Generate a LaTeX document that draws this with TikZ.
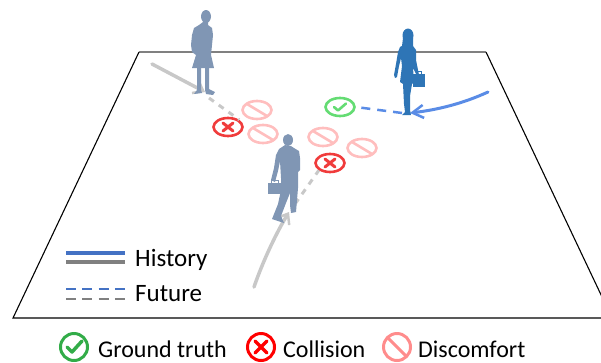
\documentclass[tikz,border=0pt]{standalone}
\usepackage{fontspec}
\setmainfont{Carlito}
\usetikzlibrary{arrows.meta,shapes.geometric}

\definecolor{walker}{RGB}{128,150,180}
\definecolor{lady}{RGB}{46,117,182}
\definecolor{trailgray}{RGB}{200,200,200}
\definecolor{trailblue}{RGB}{90,140,230}
\definecolor{keyblue}{RGB}{68,114,196}
\definecolor{keygray}{RGB}{128,128,128}
\definecolor{okgreen}{RGB}{100,220,115}
\definecolor{hitred}{RGB}{240,60,60}
\definecolor{nearpink}{RGB}{255,190,190}
\definecolor{kgreen}{RGB}{50,172,72}
\definecolor{kred}{RGB}{255,0,0}
\definecolor{kpink}{RGB}{255,140,140}

\tikzset{
  floor/.style={line width=1.1pt, line join=miter},
  trail/.style={line width=3.5pt, trailgray, line cap=round},
  trailtip/.style={-{Straight Barb[length=9pt,width=14pt,line width=2.5pt]}},
  bluetrail/.style={line width=3pt, trailblue, line cap=round},
  grayfut/.style={line width=3pt, trailgray, dash pattern=on 6pt off 6pt},
  bluefut/.style={line width=2.5pt, trailblue, dash pattern=on 9pt off 7pt},
  floormark/.style={ellipse, minimum width=29pt, minimum height=18pt, line width=2.6pt, inner sep=0pt},
  okmark/.style={floormark, draw=okgreen,
    path picture={\draw[okgreen, line width=2.6pt, line cap=round, line join=round]
      ([shift={(-6,0)}]path picture bounding box.center) -- ++(4,3.5) -- ++(8,-7);}},
  hitmark/.style={floormark, draw=hitred,
    path picture={\draw[hitred, line width=3pt, line cap=round]
      ([shift={(-5,-4)}]path picture bounding box.center) -- ++(10,8)
      ([shift={(5,-4)}]path picture bounding box.center) -- ++(-10,8);}},
  nearmark/.style={floormark, draw=nearpink,
    path picture={\draw[nearpink, line width=2.6pt]
      ([shift={(-10,-6)}]path picture bounding box.center) -- ++(20,12);}},
  keyicon/.style={circle, minimum size=27pt, line width=3pt, inner sep=0pt},
  keytext/.style={anchor=base west, inner sep=0pt, font=\fontsize{25}{25}\selectfont},
  marktext/.style={anchor=base west, inner sep=0pt, font=\fontsize{24}{24}\selectfont},
}

\begin{document}
\begin{tikzpicture}[x=1pt,y=-1pt]
\useasboundingbox (0,0) rectangle (601,362);
\clip (0,0) rectangle (601,362);

% ground plane
\coordinate (fl1) at (139,52);
\coordinate (fl2) at (486,52);
\coordinate (fl3) at (612,318);
\coordinate (fl4) at (13,318);
\draw[floor, gray] (fl1) -- (fl2);
\draw[floor] (fl2) -- (fl3) -- (fl4) -- (fl1);

% anchor points of the trajectories
\coordinate (w1start) at (152,64);
\coordinate (w1foot) at (205,92);
\coordinate (w1fut) at (209,98);
\coordinate (w2start) at (488,92);
\coordinate (w2foot) at (410,113);
\coordinate (w2fut) at (402,113);
\coordinate (mstart) at (254,287);
\coordinate (mfoot) at (289,212);
\coordinate (mfut) at (295,204);

% outcome markers on the floor
\node[nearmark] (n1) at (257,110) {};
\node[nearmark] (n2) at (263,134) {};
\node[nearmark] (n3) at (323,137) {};
\node[nearmark] (n4) at (362,148) {};
\node[hitmark] (h1) at (228,127) {};
\node[hitmark] (h2) at (330,163) {};
\node[okmark] (g1) at (340,107) {};

% observed paths and predicted continuations
\draw[trail, trailtip] (w1start) -- (w1foot);
\draw[grayfut] (w1fut) -- (h1.north east);
\draw[trail, trailtip] (mstart) .. controls (264,258) and (278,230) .. (mfoot);
\draw[grayfut] (mfut) -- (h2.south west);
\draw[bluetrail, -{Straight Barb[length=11pt,width=13pt,line width=2.5pt]}]
  (w2start) .. controls (462,104) and (436,110) .. (w2foot);
\draw[bluefut] (w2fut) -- (g1.east);

% pedestrian in a skirt (top left)
\fill[walker] (206,16.5) ellipse (5pt and 6.5pt);
\fill[walker] (203,22) -- (199,25) -- (194,28) -- (192,35) -- (191,45) -- (192,52)
  -- (196,55) -- (192,68) -- (214,68) -- (211,55) -- (212,45) -- (213,35)
  -- (212,28) -- (208,25) -- (208,22) -- cycle;
\fill[walker] (197,67) -- (201,67) -- (201,90) -- (202,93) -- (194,94) -- (197,90) -- cycle;
\fill[walker] (205,67) -- (209,67) -- (209,89) -- (215,92) -- (213,95) -- (206,94) -- (205,90) -- cycle;

% woman with a handbag (top right)
\fill[lady] (408,35.5) ellipse (5.5pt and 7pt);
\fill[lady] (403,38) -- (402,46) -- (413,46) -- (413,38) -- cycle;
\fill[lady] (405,44) -- (400,47) -- (398,52) -- (396,64) -- (394,75) -- (395,78)
  -- (397,77) -- (399,66) -- (401,58) -- (402,66) -- (400,82) -- (403,84)
  -- (404,104) -- (405,112) -- (402,115) -- (411,115) -- (410,110) -- (410,96)
  -- (412,84) -- (414,82) -- (413,68) -- (417,76) -- (419,75) -- (416,60)
  -- (416,50) -- (413,46) -- (410,44) -- cycle;
\fill[lady] (413,74) rectangle (425,87);
\draw[lady, line width=1pt] (416,74) -- (416,71) -- (421,71) -- (421,74);

% man with a briefcase (centre)
\fill[walker] (288,140) ellipse (5pt and 6pt);
\fill[walker] (285,145) -- (279,149) -- (276,155) -- (274,168) -- (271,180) -- (275,182)
  -- (278,171) -- (280,161) -- (281,178) -- (281,190) -- (278,204) -- (274,214)
  -- (272,219) -- (284,223) -- (281,216) -- (286,203) -- (290,193) -- (290,205)
  -- (291,213) -- (296,212) -- (297,200) -- (298,188) -- (298,172) -- (300,170)
  -- (300,158) -- (299,151) -- (294,148) -- (291,146) -- cycle;
\fill[walker] (268,183) rectangle (281,194);
\draw[walker, line width=1pt] (271,183) -- (271,180) -- (278,180) -- (278,183);

% line legend
\coordinate (hb1) at (66,253); \coordinate (hb2) at (125,253);
\coordinate (hg1) at (66,262); \coordinate (hg2) at (125,262);
\coordinate (fb1) at (66,289); \coordinate (fb2) at (125,289);
\coordinate (fg1) at (66,299); \coordinate (fg2) at (125,299);
\draw[keyblue, line width=4.5pt] (hb1) -- (hb2);
\draw[keygray, line width=4.5pt] (hg1) -- (hg2);
\draw[keyblue, line width=2.5pt, dash pattern=on 10pt off 6.3pt] (fb1) -- (fb2);
\draw[keygray, line width=2.5pt, dash pattern=on 10pt off 6.3pt] (fg1) -- (fg2);
\node[keytext] (lhist) at (135,266) {History};
\node[keytext] (lfut) at (135,301) {Future};

% marker legend
\node[keyicon, draw=kgreen] (kg) at (74,347) {};
\draw[kgreen, line width=3.5pt, line cap=round, line join=round]
  ([shift={(-7,0)}]kg.center) -- ++(5,5) -- ++(10,-11);
\node[marktext] (tg) at (98,357) {Ground truth};
\node[keyicon, draw=kred] (kr) at (261,347) {};
\draw[kred, line width=3.5pt, line cap=round]
  ([shift={(-6,-6)}]kr.center) -- ++(12,12)
  ([shift={(6,-6)}]kr.center) -- ++(-12,12);
\node[marktext] (tr) at (283,357) {Collision};
\node[keyicon, draw=kpink] (kp) at (397,347) {};
\draw[kpink, line width=3pt] ([shift={(-9.5,-9.5)}]kp.center) -- ++(19,19);
\node[marktext] (tp) at (418,357) {Discomfort};
\end{tikzpicture}
\end{document}
